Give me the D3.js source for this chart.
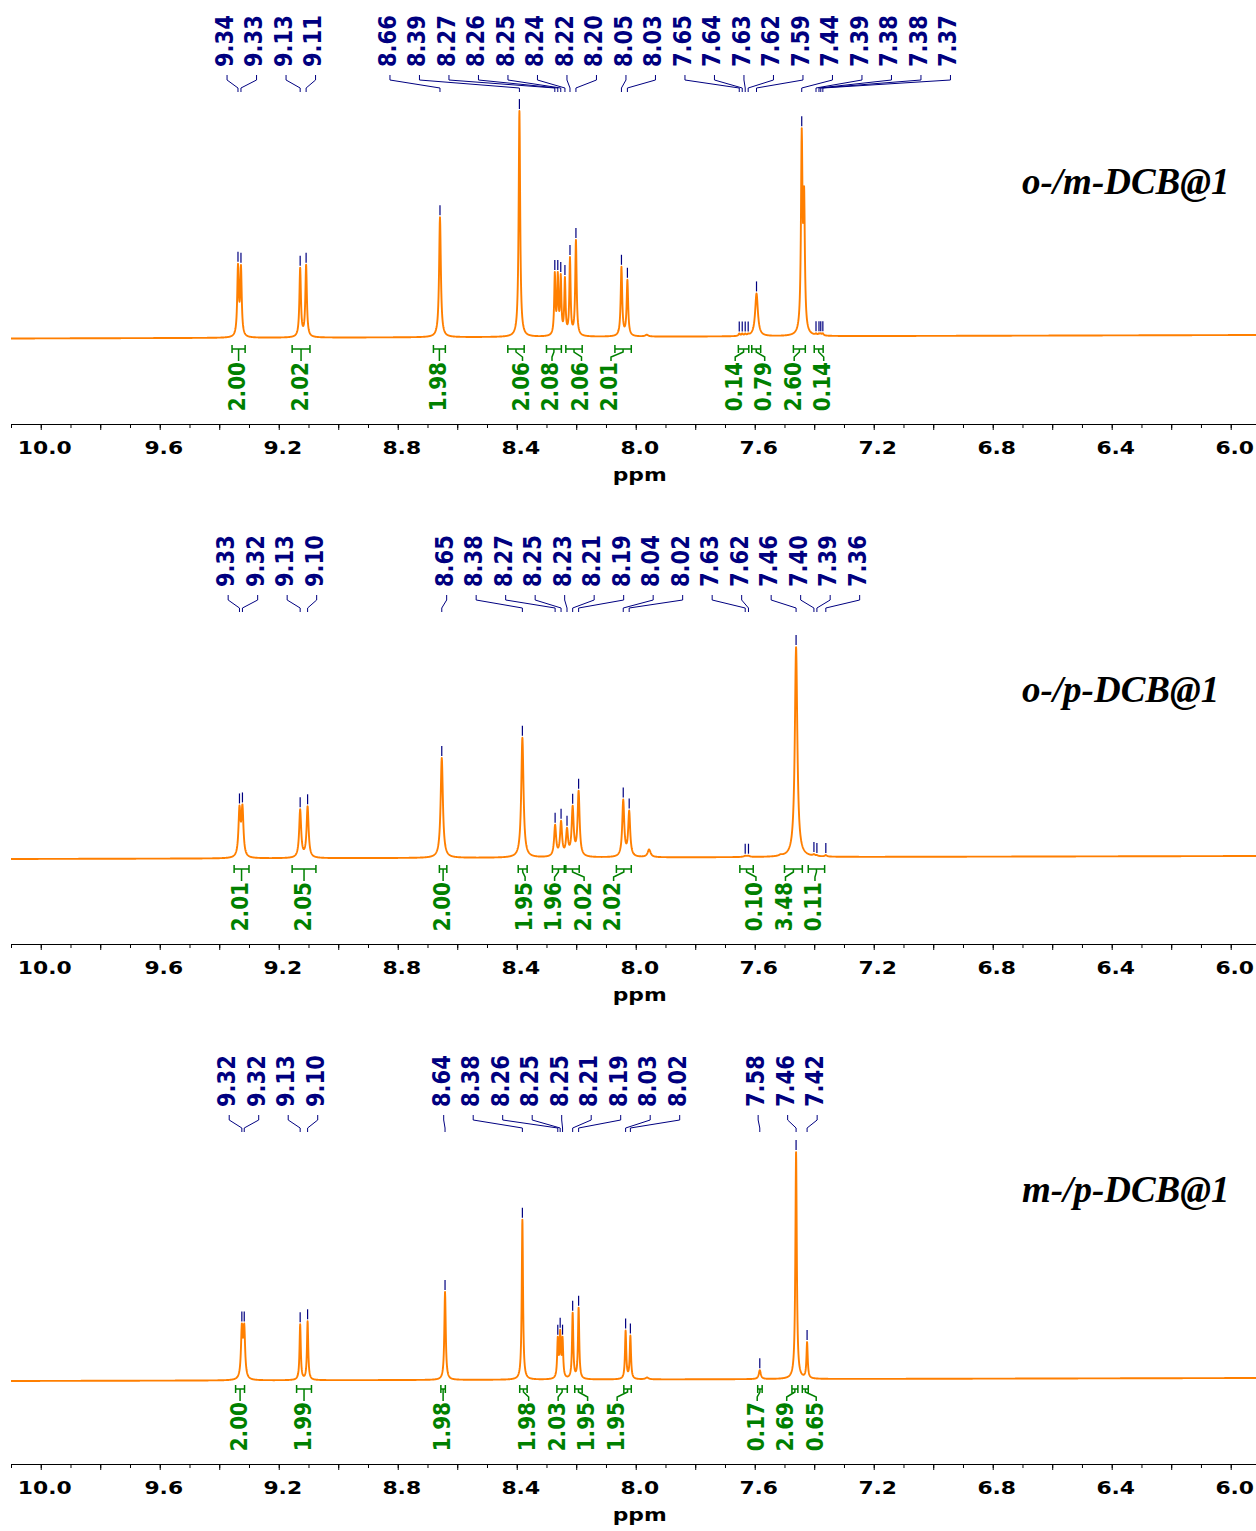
<!DOCTYPE html>
<html><head><meta charset="utf-8">
<script src="https://cdn.jsdelivr.net/npm/d3@7"></script>
<style>html,body{margin:0;padding:0;background:#fff;} svg{display:block}</style>
</head><body>
<svg id="chart" width="1256" height="1531"></svg>
<script>
// ---------------- DATA ----------------
const titles = ["o-/m-DCB@1", "o-/p-DCB@1", "m-/p-DCB@1"];
const axisTickLabels = [10.0, 9.6, 9.2, 8.8, 8.4, 8.0, 7.6, 7.2, 6.8, 6.4, 6.0];
const axisTitle = "ppm";

// Panel 1 (o-/m-DCB@1): resonance lines (ppm, apparent height, half-width ppm)
const p1LinePpm    = [9.337, 9.327, 9.128, 9.108, 8.658, 8.391, 8.272, 8.262, 8.252, 8.238, 8.221, 8.201, 8.048, 8.028, 7.963, 7.652, 7.642, 7.632, 7.622, 7.594, 7.465, 7.442, 7.434, 7.394, 7.384, 7.378, 7.371];
const p1LineHeight = [74, 73, 70, 73, 120, 226, 65, 65, 63, 60, 80, 97, 70, 57, 2, 3, 3, 3, 3, 43, 4, 208, 150, 3, 3, 3, 3];
const p1LineWidth  = [0.003, 0.003, 0.003, 0.003, 0.0035, 0.003, 0.0025, 0.0025, 0.0025, 0.0025, 0.0025, 0.0028, 0.003, 0.003, 0.006, 0.003, 0.003, 0.003, 0.003, 0.0055, 0.005, 0.003, 0.003, 0.003, 0.003, 0.003, 0.003];
const p1PeakPpm    = [9.337, 9.327, 9.128, 9.108, 8.658, 8.391, 8.272, 8.262, 8.252, 8.238, 8.221, 8.201, 8.048, 8.028, 7.652, 7.642, 7.632, 7.622, 7.594, 7.442, 7.394, 7.384, 7.378, 7.371];
const p1IntFrom    = [9.357, 9.155, 8.68, 8.43, 8.30, 8.235, 8.07, 7.655, 7.61, 7.47, 7.40];
const p1IntTo      = [9.313, 9.095, 8.64, 8.375, 8.25, 8.18, 8.015, 7.62, 7.58, 7.43, 7.37];
const p1IntValue   = [2.00, 2.02, 1.98, 2.06, 2.08, 2.06, 2.01, 0.14, 0.79, 2.60, 0.14];
const p1Drift      = [0, 3.5];

// Panel 2 (o-/p-DCB@1)
const p2LinePpm    = [9.332, 9.322, 9.128, 9.103, 8.652, 8.381, 8.35, 8.271, 8.251, 8.231, 8.212, 8.192, 8.042, 8.022, 7.955, 7.632, 7.621, 7.513, 7.461, 7.42, 7.401, 7.391, 7.361];
const p2LineHeight = [53, 54, 49, 52, 100, 120, 2, 33, 37, 30, 52, 67, 58, 47, 8, 1.5, 1.5, 3, 210, 2, 3, 2, 2];
const p2LineWidth  = [0.004, 0.004, 0.004, 0.004, 0.0045, 0.0045, 0.006, 0.004, 0.004, 0.004, 0.004, 0.004, 0.004, 0.004, 0.006, 0.006, 0.006, 0.006, 0.005, 0.006, 0.004, 0.004, 0.004];
const p2PeakPpm    = [9.332, 9.322, 9.128, 9.103, 8.652, 8.381, 8.271, 8.251, 8.231, 8.212, 8.192, 8.042, 8.022, 7.632, 7.621, 7.461, 7.401, 7.391, 7.361];
const p2IntFrom    = [9.35, 9.155, 8.66, 8.395, 8.28, 8.235, 8.065, 7.65, 7.50, 7.42];
const p2IntTo      = [9.30, 9.075, 8.635, 8.365, 8.24, 8.19, 8.015, 7.605, 7.44, 7.365];
const p2IntValue   = [2.01, 2.05, 2.00, 1.95, 1.96, 2.02, 2.02, 0.10, 3.48, 0.11];
const p2Drift      = [0, 3];

// Panel 3 (m-/p-DCB@1)
const p3LinePpm    = [9.324, 9.316, 9.128, 9.103, 8.641, 8.381, 8.262, 8.254, 8.246, 8.212, 8.192, 8.034, 8.018, 7.962, 7.583, 7.461, 7.424];
const p3LineHeight = [57, 57, 56, 59, 88, 160, 43, 50, 43, 67, 72, 49, 44, 2, 9, 227, 37];
const p3LineWidth  = [0.0035, 0.0035, 0.0025, 0.0025, 0.0028, 0.0025, 0.0025, 0.0025, 0.0025, 0.0025, 0.0025, 0.0025, 0.0025, 0.006, 0.004, 0.0028, 0.0025];
const p3PeakPpm    = [9.324, 9.316, 9.128, 9.103, 8.641, 8.381, 8.262, 8.254, 8.246, 8.212, 8.192, 8.034, 8.018, 7.583, 7.461, 7.424];
const p3IntFrom    = [9.345, 9.14, 8.655, 8.39, 8.265, 8.205, 8.04, 7.59, 7.475, 7.44];
const p3IntTo      = [9.315, 9.09, 8.64, 8.365, 8.23, 8.18, 8.015, 7.575, 7.455, 7.42];
const p3IntValue   = [2.00, 1.99, 1.98, 1.98, 2.03, 1.95, 1.95, 0.17, 2.69, 0.65];
const p3Drift      = [0, 3];

// ---------------- LAYOUT ----------------
const svg = d3.select("#chart");
const x = d3.scaleLinear().domain([10.1, 5.915]).range([11, 1256]);
const ORANGE = "#ff7f00", NAVY = "#000080", GREEN = "#008000";
const FONT = "'DejaVu Sans', Verdana, sans-serif";

const panels = [
  {off: 0,    baseY: 338.5, titleY: 194, title: titles[0], lp: p1LinePpm, lh: p1LineHeight, lw: p1LineWidth, picked: p1PeakPpm, iF: p1IntFrom, iT: p1IntTo, iV: p1IntValue, drift: p1Drift},
  {off: 520,  baseY: 859,   titleY: 702, title: titles[1], lp: p2LinePpm, lh: p2LineHeight, lw: p2LineWidth, picked: p2PeakPpm, iF: p2IntFrom, iT: p2IntTo, iV: p2IntValue, drift: p2Drift},
  {off: 1040, baseY: 1381,  titleY: 1202, title: titles[2], lp: p3LinePpm, lh: p3LineHeight, lw: p3LineWidth, picked: p3PeakPpm, iF: p3IntFrom, iT: p3IntTo, iV: p3IntValue, drift: p3Drift}
];

function lor(v, p, g) { const d = (v - p) / g; return 1 / (1 + d * d); }

function solveAmps(pos, hts, wid) {
  let a = hts.slice();
  for (let it = 0; it < 120; it++) {
    const cur = pos.map(p => pos.reduce((s, q, j) => s + a[j] * lor(p, q, wid[j]), 0));
    a = a.map((v, i) => Math.max(0, v + 0.7 * (hts[i] - cur[i])));
  }
  return a;
}

function layoutLabels(anchors, spacing, gap) {
  let clusters = anchors.map((a, i) => ({idx: [i], sum: a}));
  const ext = c => { const n = c.idx.length, m = c.sum / n; return {start: m - (n - 1) * spacing / 2, end: m + (n - 1) * spacing / 2}; };
  let changed = true;
  while (changed) {
    changed = false;
    for (let i = 0; i < clusters.length - 1; i++) {
      const A = ext(clusters[i]), B = ext(clusters[i + 1]);
      if (B.start - A.end < gap) {
        clusters[i] = {idx: clusters[i].idx.concat(clusters[i + 1].idx), sum: clusters[i].sum + clusters[i + 1].sum};
        clusters.splice(i + 1, 1);
        changed = true; break;
      }
    }
  }
  const out = new Array(anchors.length);
  clusters.forEach(c => { const e = ext(c); c.idx.forEach((id, k) => out[id] = e.start + k * spacing); });
  return out;
}

const tickAll = d3.range(60, 102).map(v => v / 10);
const tickMajor = tickAll.filter(v => Math.round(v * 10) % 2 === 0);

panels.forEach(P => {
  const g = svg.append("g");
  const y = d3.scaleLinear().domain([0, 250]).range([P.baseY, P.baseY - 250]);
  const drift = d3.scaleLinear().domain([10.1, 5.915]).range(P.drift);
  const amps = solveAmps(P.lp, P.lh, P.lw);
  const f = v => drift(v) + P.lp.reduce((s, p, j) => s + amps[j] * lor(v, p, P.lw[j]), 0);

  // spectrum
  let samples = d3.range(11, 1256.01, 0.25).map(px => x.invert(px)).concat(P.lp);
  samples.sort((a, b) => b - a);
  const pts = samples.map(v => [v, f(v)]);
  g.append("path")
    .attr("d", d3.line().x(d => x(d[0])).y(d => y(d[1]))(pts))
    .attr("fill", "none").attr("stroke", ORANGE).attr("stroke-width", 1.9)
    .attr("stroke-linejoin", "round");

  // axis
  const axisY = P.off + 424;
  const ax = g.append("g").attr("transform", `translate(0,${axisY})`);
  ax.call(d3.axisBottom(x).tickValues(tickAll).tickSize(4).tickSizeOuter(0).tickFormat(""));
  const ax2 = g.append("g").attr("transform", `translate(0,${axisY})`);
  ax2.call(d3.axisBottom(x).tickValues(tickMajor).tickSize(6).tickSizeOuter(0).tickFormat(""));
  ax2.select(".domain").remove();
  g.selectAll(".tick line").attr("stroke", "#000");
  g.selectAll(".domain").attr("stroke", "#000");
  g.selectAll(".tickLab").data(axisTickLabels).enter().append("text")
    .attr("transform", d => `translate(${x(d) + 4},${axisY + 30}) scale(1.18,1)`)
    .attr("text-anchor", "middle").attr("font-family", FONT).attr("font-weight", "bold")
    .attr("font-size", 18.5).attr("fill", "#000").text(d => d.toFixed(1));
  g.append("text")
    .attr("transform", `translate(${x(8.0) + 4},${axisY + 57}) scale(1.18,1)`)
    .attr("text-anchor", "middle").attr("font-family", FONT).attr("font-weight", "bold")
    .attr("font-size", 18.5).attr("fill", "#000").text(axisTitle);

  // title
  g.append("text").attr("x", 1022).attr("y", P.titleY)
    .attr("font-family", "'Liberation Serif', 'Times New Roman', serif")
    .attr("font-style", "italic").attr("font-weight", "bold").attr("font-size", 37)
    .attr("fill", "#000").text(P.title);

  // peak labels
  const anchors = P.picked.map(p => x(p));
  const lx = layoutLabels(anchors, 29.5, 50);
  P.picked.forEach((p, i) => {
    const px = x(p);
    g.append("text")
      .attr("transform", `translate(${lx[i] - 3},${P.off + 67}) scale(1.18,1) rotate(-90)`)
      .attr("dy", "0.36em").attr("text-anchor", "start")
      .attr("font-family", FONT).attr("font-weight", "bold").attr("font-size", 21)
      .attr("fill", NAVY).text(p.toFixed(2));
    g.append("path")
      .attr("d", `M${lx[i]},${P.off + 75}V${P.off + 80}L${px},${P.off + 88}V${P.off + 92}`)
      .attr("fill", "none").attr("stroke", NAVY).attr("stroke-width", 1);
    const py = y(f(p));
    g.append("line").attr("x1", px).attr("x2", px).attr("y1", py - 12).attr("y2", py - 2)
      .attr("stroke", NAVY).attr("stroke-width", 1.2);
  });

  // integrals
  const ic = P.iF.map((a, i) => (x(a) + x(P.iT[i])) / 2);
  const il = layoutLabels(ic, 29.5, 50);
  const by = P.off + 349;
  P.iV.forEach((v, i) => {
    const x1 = x(P.iF[i]), x2 = x(P.iT[i]);
    g.append("path")
      .attr("d", `M${x1},${by - 4}V${by + 4}M${x1},${by}H${x2}M${x2},${by - 4}V${by + 4}M${ic[i]},${by}V${by + 3}L${il[i]},${by + 8}V${by + 12}`)
      .attr("fill", "none").attr("stroke", GREEN).attr("stroke-width", 1.5);
    g.append("text")
      .attr("transform", `translate(${il[i] - 2},${by + 13}) scale(1.18,1) rotate(-90)`)
      .attr("dy", "0.36em").attr("text-anchor", "end")
      .attr("font-family", FONT).attr("font-weight", "bold").attr("font-size", 20)
      .attr("fill", GREEN).text(v.toFixed(2));
  });
});
</script></body></html>
